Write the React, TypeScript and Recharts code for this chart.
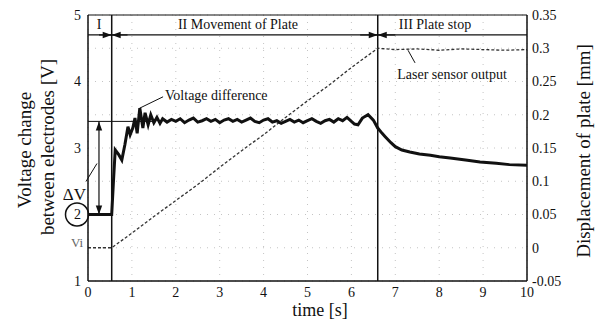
import React from "react";
import { CartesianGrid, Line, LineChart, ReferenceLine, XAxis, YAxis } from "recharts";

const serif = "'Liberation Serif', 'Times New Roman', serif";

const timeTicks = [0, 1, 2, 3, 4, 5, 6, 7, 8, 9, 10];
const voltTicks = [1, 2, 3, 4, 5];
const dispTicks = [-0.05, 0, 0.05, 0.1, 0.15, 0.2, 0.25, 0.3, 0.35];

// voltage difference trace
const voltTime = [
  0, 0.54, 0.58, 0.62, 0.7, 0.77, 0.84, 0.91, 0.96, 1.02, 1.07, 1.12, 1.18, 1.25, 1.3, 1.37, 1.43, 1.5, 1.57,
  1.64, 1.7, 1.8, 1.9, 2.0, 2.1, 2.2, 2.3, 2.4, 2.5, 2.6, 2.7, 2.8, 2.9, 3.0, 3.1, 3.2, 3.3, 3.4, 3.5, 3.6,
  3.7, 3.8, 3.9, 4.0, 4.1, 4.2, 4.3, 4.4, 4.5, 4.6, 4.7, 4.8, 4.9, 5.0, 5.1, 5.2, 5.3, 5.4, 5.5, 5.6, 5.7,
  5.8, 5.9, 6.0, 6.07, 6.15, 6.25, 6.38, 6.5, 6.6, 6.7, 6.77, 6.9, 7.0, 7.15, 7.33, 7.55, 7.8, 8.0, 8.25,
  8.6, 8.93, 9.3, 9.6, 10,
];
const voltValue = [
  2, 2, 2.5, 2.97, 2.9, 2.82, 3.05, 3.32, 3.2, 3.3, 3.45, 3.22, 3.6, 3.3, 3.53, 3.35, 3.5, 3.38, 3.46,
  3.37, 3.44, 3.39, 3.43, 3.4, 3.44, 3.38, 3.42, 3.45, 3.39, 3.41, 3.44, 3.4, 3.43, 3.38, 3.42, 3.44, 3.4,
  3.43, 3.39, 3.42, 3.45, 3.4, 3.38, 3.42, 3.44, 3.39, 3.41, 3.37, 3.4, 3.43, 3.39, 3.42, 3.38, 3.41, 3.44,
  3.4, 3.37, 3.41, 3.43, 3.39, 3.44, 3.41, 3.46, 3.4, 3.36, 3.35, 3.45, 3.5, 3.42, 3.3, 3.22, 3.17, 3.08,
  3.02, 2.97, 2.94, 2.91, 2.89, 2.87, 2.85, 2.82, 2.79, 2.77, 2.75, 2.74,
];

// laser sensor output (displacement)
const laserTime = [0, 0.54, 1, 1.5, 2, 2.5, 3, 3.5, 4, 4.5, 5, 5.5, 6, 6.6, 7, 7.5, 8, 8.5, 9, 9.5, 10];
const laserValue = [
  0, 0, 0.022, 0.047, 0.071, 0.095, 0.121, 0.146, 0.17, 0.196, 0.221, 0.245, 0.271, 0.3, 0.298, 0.299, 0.297,
  0.299, 0.298, 0.297, 0.298,
];

const voltData = voltTime.map((t, i) => ({ t, v: voltValue[i] }));
const laserData = laserTime.map((t, i) => ({ t, d: laserValue[i] }));

const head = (x: number, y: number, ux: number, uy: number, len = 9, half = 3.2) => {
  const bx = x - ux * len;
  const by = y - uy * len;
  return `${x},${y} ${bx - uy * half},${by + ux * half} ${bx + uy * half},${by - ux * half}`;
};

const unit = (p: any) => {
  const dx = p.x2 - p.x1;
  const dy = p.y2 - p.y1;
  const l = Math.hypot(dx, dy) || 1;
  return [dx / l, dy / l];
};

const ArrowEnd = (p: any) => {
  const [ux, uy] = unit(p);
  return (
    <g>
      <line x1={p.x1} y1={p.y1} x2={p.x2} y2={p.y2} stroke="#111" strokeWidth={1.2} />
      <polygon points={head(p.x2, p.y2, ux, uy)} fill="#111" />
    </g>
  );
};

const DeltaArrow = (p: any) => {
  const [ux, uy] = unit(p);
  return (
    <g>
      <line x1={p.x1} y1={p.y1} x2={p.x2} y2={p.y2} stroke="#111" strokeWidth={1.2} />
      <polygon points={head(p.x2, p.y2, ux, uy)} fill="#111" />
      <polygon points={head(p.x1, p.y1, -ux, -uy)} fill="#111" />
      <line x1={p.x1 - 2} y1={p.y2 - 51} x2={p.x1 - 13} y2={p.y2 - 33} stroke="#111" strokeWidth={1} />
      <text x={p.x1 - 13} y={p.y2 - 15} textAnchor="end" fontFamily={serif} fontSize={17} fill="#111">
        ΔV
      </text>
    </g>
  );
};

const VoltLeader = (p: any) => (
  <g>
    <line x1={p.x1} y1={p.y1} x2={p.x2} y2={p.y2} stroke="#111" strokeWidth={1} />
    <text x={p.x2 + 2} y={p.y2 + 3} fontFamily={serif} fontSize={14} fill="#111">
      Voltage difference
    </text>
  </g>
);

const LaserLeader = (p: any) => (
  <g>
    <line x1={p.x1} y1={p.y1} x2={p.x2} y2={p.y2} stroke="#111" strokeWidth={1} />
    <text x={p.x2 + 37} y={p.y2 + 16} textAnchor="middle" fontFamily={serif} fontSize={14} fill="#111">
      Laser sensor output
    </text>
  </g>
);

const LeftTick = (p: any) => {
  const { x, y, payload } = p;
  return (
    <g>
      {payload.value === 2 && <circle cx={x - 4} cy={y} r={11.5} fill="none" stroke="#111" strokeWidth={1.5} />}
      <text x={x} y={y} dy="0.35em" textAnchor="end" fontFamily={serif} fontSize={14} fill="#111">
        {payload.value}
      </text>
    </g>
  );
};

const BottomTick = (p: any) => (
  <text x={p.x} y={p.y} dy="0.71em" textAnchor="middle" fontFamily={serif} fontSize={14} fill="#111">
    {p.payload.value}
  </text>
);

const RightTick = (p: any) => (
  <text x={p.x} y={p.y} dy="0.35em" textAnchor="start" fontFamily={serif} fontSize={14} fill="#111">
    {p.payload.value}
  </text>
);

export default function App() {
  return (
    <div
      style={{ position: "absolute", left: 0, top: 0, width: 603, height: 326, background: "#fff", fontFamily: serif }}
    >
      <LineChart width={603} height={326} margin={{ top: 15, right: 0, bottom: 0, left: 0 }}>
        <CartesianGrid yAxisId="d" xAxisId="t" stroke="#c4c4c4" strokeDasharray="1 6" />
        <XAxis
          xAxisId="t"
          dataKey="t"
          type="number"
          domain={[0, 10]}
          ticks={timeTicks}
          height={45}
          tickLine={false}
          tickSize={4}
          tickMargin={2}
          tick={<BottomTick />}
          axisLine={{ stroke: "#111", strokeWidth: 1.5 }}
        />
        <YAxis
          yAxisId="v"
          domain={[1, 5]}
          ticks={voltTicks}
          width={88}
          tickLine={false}
          tickSize={6}
          tickMargin={1}
          tick={<LeftTick />}
          axisLine={{ stroke: "#111", strokeWidth: 1.5 }}
        />
        <YAxis
          yAxisId="d"
          orientation="right"
          domain={[-0.05, 0.35]}
          ticks={dispTicks}
          width={76}
          tickLine={false}
          tickSize={4}
          tickMargin={1}
          tick={<RightTick />}
          axisLine={{ stroke: "#111", strokeWidth: 1.5 }}
        />
        <ReferenceLine xAxisId="t" yAxisId="v" y={5} stroke="#111" strokeWidth={1.2} />
        <ReferenceLine xAxisId="t" yAxisId="v" y={4.7} stroke="#111" strokeWidth={1.2} />
        <ReferenceLine xAxisId="t" yAxisId="v" x={0.54} stroke="#111" strokeWidth={1.5} />
        <ReferenceLine xAxisId="t" yAxisId="v" x={6.6} stroke="#111" strokeWidth={1.5} />
        <ReferenceLine
          xAxisId="t"
          yAxisId="v"
          segment={[{ x: 0, y: 3.4 }, { x: 1.5, y: 3.4 }]}
          stroke="#111"
          strokeWidth={1}
        />
        <ReferenceLine xAxisId="t" yAxisId="v" segment={[{ x: 0.25, y: 4.7 }, { x: 0.54, y: 4.7 }]} shape={ArrowEnd} />
        <ReferenceLine xAxisId="t" yAxisId="v" segment={[{ x: 0.9, y: 4.7 }, { x: 0.54, y: 4.7 }]} shape={ArrowEnd} />
        <ReferenceLine xAxisId="t" yAxisId="v" segment={[{ x: 6.2, y: 4.7 }, { x: 6.6, y: 4.7 }]} shape={ArrowEnd} />
        <ReferenceLine xAxisId="t" yAxisId="v" segment={[{ x: 7.0, y: 4.7 }, { x: 6.6, y: 4.7 }]} shape={ArrowEnd} />
        <ReferenceLine
          xAxisId="t"
          yAxisId="v"
          segment={[{ x: 0.25, y: 3.4 }, { x: 0.25, y: 2.0 }]}
          shape={DeltaArrow}
        />
        <ReferenceLine
          xAxisId="t"
          yAxisId="v"
          segment={[{ x: 1.18, y: 3.6 }, { x: 1.71, y: 3.77 }]}
          shape={VoltLeader}
        />
        <ReferenceLine
          xAxisId="t"
          yAxisId="d"
          segment={[{ x: 7.29, y: 0.297 }, { x: 7.45, y: 0.278 }]}
          shape={LaserLeader}
        />
        <Line
          xAxisId="t"
          yAxisId="d"
          data={laserData}
          dataKey="d"
          type="linear"
          stroke="#333"
          strokeWidth={1.3}
          strokeDasharray="3 2"
          dot={false}
          isAnimationActive={false}
        />
        <Line
          xAxisId="t"
          yAxisId="v"
          data={voltData}
          dataKey="v"
          type="linear"
          stroke="#111"
          strokeWidth={3}
          dot={false}
          isAnimationActive={false}
        />
      </LineChart>
      <svg
        width={603}
        height={326}
        style={{ position: "absolute", left: 0, top: 0, pointerEvents: "none" }}
        fontFamily={serif}
        fill="#111"
      >
        <text x={99} y={29} textAnchor="middle" fontSize={14}>I</text>
        <text x={238} y={29} textAnchor="middle" fontSize={14}>II  Movement of Plate</text>
        <text x={435} y={29} textAnchor="middle" fontSize={14}>III  Plate stop</text>
        <text x={77} y={247} textAnchor="middle" fontSize={13} fill="#666">Vi</text>
        <text x={24} y={150} textAnchor="middle" dominantBaseline="central" fontSize={19} transform="rotate(-90 24 150)">
          Voltage change
        </text>
        <text x={47} y={147} textAnchor="middle" dominantBaseline="central" fontSize={19} transform="rotate(-90 47 147)">
          between electrodes [V]
        </text>
        <text x={583} y={151} textAnchor="middle" dominantBaseline="central" fontSize={19} transform="rotate(-90 583 151)">
          Displacement of plate [mm]
        </text>
        <text x={320} y={316} textAnchor="middle" fontSize={18}>time [s]</text>
      </svg>
    </div>
  );
}
